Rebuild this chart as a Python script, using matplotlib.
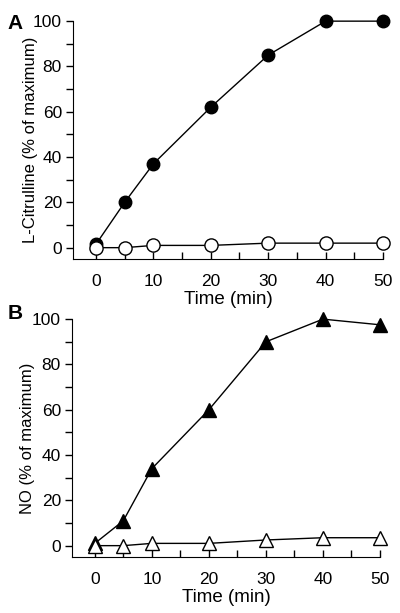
import numpy as np
import matplotlib
matplotlib.use("Agg")
import matplotlib.pyplot as plt
from matplotlib.ticker import MultipleLocator

plt.rcParams['font.family'] = ['Liberation Sans', 'DejaVu Sans']

# data
time = [0, 5, 10, 20, 30, 40, 50]
citrulline_on = [1.5, 20, 37, 62, 85, 100, 100]
citrulline_off = [0, 0, 1, 1, 2, 2, 2]
no_on = [1, 11, 34, 60, 90, 100, 97.5]
no_off = [0, 0, 1, 1, 2.5, 3.5, 3.5]

fig = plt.figure(figsize=(4.0, 6.13), dpi=100)
axA = fig.add_axes([0.1825, 0.5775, 0.775, 0.388])
axB = fig.add_axes([0.18, 0.0914, 0.77, 0.388])

def style(ax, ylabel, ylab_x):
    ax.set_xlim(-4, 50)
    ax.set_ylim(-5, 100)
    for s in ['top', 'right']:
        ax.spines[s].set_visible(False)
    ax.spines['left'].set_bounds(-5, 100)
    ax.spines['bottom'].set_bounds(-4, 50)
    ax.xaxis.set_major_locator(MultipleLocator(10))
    ax.xaxis.set_minor_locator(MultipleLocator(5))
    ax.yaxis.set_major_locator(MultipleLocator(20))
    ax.yaxis.set_minor_locator(MultipleLocator(10))
    ax.tick_params(axis='x', which='both', direction='in', length=5, width=1, labelsize=12.5, pad=11)
    ax.tick_params(axis='y', which='both', direction='out', length=5, width=1, labelsize=12.5, pad=3)
    ax.set_xlabel('Time (min)', fontsize=13.5, labelpad=1)
    ax.set_ylabel(ylabel, fontsize=12)
    ax.yaxis.set_label_coords(ylab_x, 0.5)

axA.plot(time, citrulline_on, '-o', color='black', mfc='black', mec='black',
         ms=9, lw=1, clip_on=False, zorder=3)
axA.plot(time, citrulline_off, '-o', color='black', mfc='white', mec='black',
         ms=9.5, mew=1, lw=1, clip_on=False, zorder=4)
style(axA, 'L-Citrulline (% of maximum)', -0.113)

axB.plot(time, no_on, '-^', color='black', mfc='black', mec='black',
         ms=10, lw=1, clip_on=False, zorder=3)
axB.plot(time, no_off, '-^', color='black', mfc='white', mec='black',
         ms=10.5, mew=1, lw=1, clip_on=False, zorder=4)
style(axB, 'NO (% of maximum)', -0.12)

fig.text(0.018, 0.962, 'A', fontsize=15, fontweight='bold', va='center')
fig.text(0.018, 0.489, 'B', fontsize=15, fontweight='bold', va='center')

fig.savefig('out.png', dpi=100)
